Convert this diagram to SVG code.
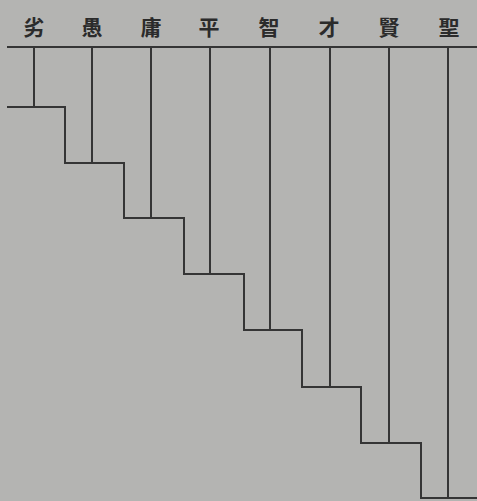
<svg xmlns="http://www.w3.org/2000/svg" width="477" height="501" viewBox="0 0 477 501">
<style>
.bg{fill:#b4b4b2}
.lbl{font-family:"Noto Sans CJK TC","Noto Sans CJK SC",sans-serif;font-size:21px;font-weight:bold;fill:#2b2b2b;text-anchor:middle}
.ln{stroke:#353535;stroke-width:2;fill:none;stroke-linecap:square}
</style>
<rect class="bg" x="0" y="0" width="477" height="501"/>
<g id="axis"><line class="ln" x1="8" y1="47" x2="477" y2="47"/></g>
<g id="n1"><text class="lbl" x="34" y="35">劣</text></g>
<g id="n2"><text class="lbl" x="92" y="35">愚</text></g>
<g id="n3"><text class="lbl" x="151" y="35">庸</text></g>
<g id="n4"><text class="lbl" x="209" y="35">平</text></g>
<g id="n5"><text class="lbl" x="269" y="35">智</text></g>
<g id="n6"><text class="lbl" x="329" y="35">才</text></g>
<g id="n7"><text class="lbl" x="389" y="35">賢</text></g>
<g id="n8"><text class="lbl" x="449" y="35">聖</text></g>
<g id="connectors">
<line class="ln" x1="34" y1="48" x2="34" y2="107"/>
<line class="ln" x1="92" y1="48" x2="92" y2="163"/>
<line class="ln" x1="151" y1="48" x2="151" y2="218"/>
<line class="ln" x1="210" y1="48" x2="210" y2="274"/>
<line class="ln" x1="270" y1="48" x2="270" y2="330"/>
<line class="ln" x1="330" y1="48" x2="330" y2="387"/>
<line class="ln" x1="389" y1="48" x2="389" y2="443"/>
<line class="ln" x1="448" y1="48" x2="448" y2="498"/>
<polyline class="ln" points="8,107 65,107 65,163 124,163 124,218 184,218 184,274 244,274 244,330 302,330 302,387 361,387 361,443 421,443 421,498 477,498"/>
</g>
</svg>
